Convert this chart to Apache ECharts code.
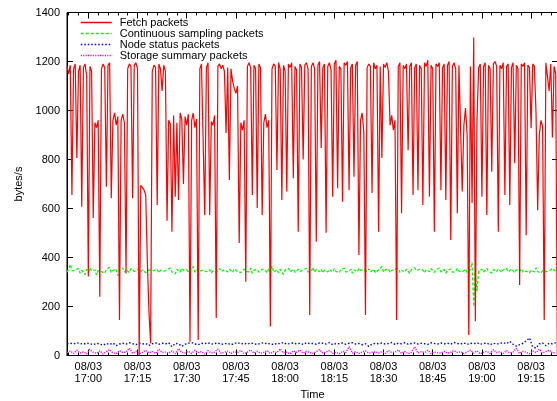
<!DOCTYPE html>
<html>
<head>
<meta charset="utf-8">
<script src="https://cdn.jsdelivr.net/npm/echarts@6/dist/echarts.min.js"></script>
<style>
  html, body { margin: 0; padding: 0; background: #fff; }
  #chart { width: 557px; height: 401px; }
</style>
</head>
<body>
<div id="chart"></div>
<script>
// Packet traffic per type, bytes/s, sampled over the afternoon of 08/03.
// Times are minutes after midnight.
const dayLabel = '08/03';
const startMinute = 1013.5;      // 16:53:30, first sample
const endMinute = 1163.2;        // right edge of the time window
const fastStep = 0.5;            // fetch + continuous sampling: one sample per 30 s
const slowStep = 1.0;            // node status + storage summary: one sample per minute

const tickTimes = ['17:00', '17:15', '17:30', '17:45', '18:00', '18:15', '18:30', '18:45', '19:00', '19:15'];
const yTicks = [0, 200, 400, 600, 800, 1000, 1200, 1400];

const seriesNames = ['Fetch packets', 'Continuous sampling packets', 'Node status packets', 'Storage summary packets'];

const fetchPackets = [
  1180,1150,1185,655,1170,1190,806,1160,1185,607,1175,1190,1140,322,1180,1160,561,950,930,960,
  240,1170,1190,1175,689,1185,1195,642,960,990,940,975,145,960,985,950,335,1170,1190,1180,
  642,1185,1195,1170,0,695,685,675,655,380,175,50,1160,1185,1175,614,1190,1170,1080,1185,
  1160,550,960,945,505,980,648,950,635,990,965,700,975,940,985,56,960,990,930,965,
  63,1170,1190,1185,573,1175,1195,573,955,940,980,153,1180,1190,1170,1185,1160,908,1175,716,
  1170,1120,1090,1070,1100,459,950,920,960,301,1180,1195,1175,655,1185,1170,602,1190,1175,573,
  950,985,930,960,118,1170,1190,1180,757,1195,1170,635,1185,1160,669,1190,1175,1195,724,1180,
  1165,505,1190,1175,800,1185,1195,1170,165,1180,1195,1170,464,1185,1200,847,1175,1190,501,1180,
  1195,1165,648,1190,1205,683,1180,1170,628,1195,1185,1200,675,1175,1190,730,1185,1200,410,960,
  990,910,165,1175,1190,1180,663,1195,1170,1185,505,1180,806,1190,1175,1195,1160,940,980,920,
  960,145,1180,1195,581,1185,1170,1190,838,1180,1195,655,1175,1190,675,1185,1170,614,1195,1180,
  1205,648,1185,1170,505,1190,1180,1195,675,1175,1190,635,1185,1200,471,1180,1195,1170,581,1185,
  1190,669,940,1010,900,84,1180,622,1298,140,960,1175,1190,648,1180,1195,573,1185,1170,750,
  1190,1200,1180,505,1185,1170,1195,655,1180,1190,614,1175,1195,785,1185,1170,288,1190,1180,1195,
  491,1185,1175,928,1190,1180,990,593,900,960,935,145,1195,1200,1080,1190,890,1180,1150,5
];

const samplingPackets = [
  340,352,372,345,338,350,343,355,336,348,346,330,352,341,358,344,337,350,328,347,
  355,342,349,336,352,345,360,338,347,341,353,326,349,344,357,340,351,346,339,355,
  348,343,335,352,346,341,350,344,338,347,342,349,355,346,340,351,337,348,353,344,
  339,350,346,357,341,348,333,352,345,340,356,347,342,351,338,349,344,362,340,347,
  353,344,338,349,356,342,347,351,336,345,352,340,348,355,343,337,350,346,341,352,
  345,339,354,347,342,350,338,346,353,344,349,341,357,336,348,343,351,340,346,352,
  344,349,337,355,342,366,340,347,351,338,352,345,331,349,343,356,341,348,353,339,
  347,352,343,338,350,345,356,341,348,344,360,339,351,346,342,353,337,349,345,341,
  352,347,340,355,343,349,338,351,346,357,341,348,344,353,336,350,345,342,356,347,
  339,351,346,343,354,341,348,352,337,345,350,344,363,340,349,346,353,338,347,342,
  351,344,356,339,348,345,341,353,347,335,350,343,358,346,340,352,344,349,337,351,
  346,342,355,348,339,350,344,357,341,347,352,336,349,345,353,340,348,343,356,344,
  350,341,347,353,338,346,352,380,200,340,262,345,345,352,340,348,356,343,349,337,
  351,345,342,354,347,339,350,344,356,341,348,353,345,338,350,346,343,355,340,348,
  344,352,337,349,346,341,358,343,350,336,347,353,342,349,345,339,356,348,343,351
];

const nodeStatusPackets = [
  48,50,47,52,49,46,51,48,44,50,47,42,49,45,51,40,47,50,46,52,48,44,50,47,49,41,48,51,46,50,
  47,52,36,49,48,37,46,50,53,47,44,50,48,52,46,49,51,45,48,50,44,49,53,47,50,46,51,48,45,50,
  52,47,49,44,50,48,53,46,49,51,47,50,45,52,48,49,46,51,50,47,53,44,49,48,51,46,50,52,47,49,
  44,48,37,46,50,48,51,47,49,53,45,50,48,52,46,49,51,47,50,48,45,52,49,47,51,48,50,46,53,49,
  47,51,45,50,48,52,46,49,51,44,50,47,49,53,48,58,46,38,44,50,60,72,35,30,48,51,40,50,48,52
];

const storageSummaryPackets = [
  12,18,8,22,10,15,7,26,13,9,19,6,16,24,10,8,20,12,14,30,9,17,7,13,21,10,16,8,25,12,
  14,9,19,7,28,13,10,17,8,22,12,16,6,20,10,14,26,9,13,18,8,16,12,21,7,14,23,10,17,9,
  13,20,8,16,12,27,10,14,7,19,13,22,9,17,12,8,16,24,10,14,20,9,13,7,17,12,36,10,16,8,
  14,19,9,13,15,10,16,8,20,12,14,23,9,17,7,13,35,10,16,12,21,8,14,11,10,17,9,13,20,12,
  16,8,14,22,10,19,7,13,17,9,24,12,16,8,20,10,14,29,9,17,13,7,19,12,26,10,16,22,9,14
];

function toMinutes(hhmm) {
  const [h, m] = hhmm.split(':').map(Number);
  return h * 60 + m;
}
function pad2(n) { return (n < 10 ? '0' : '') + n; }
function withTimes(values, step) {
  return values.map((v, i) => [startMinute + i * step, v]);
}

const majorTicks = tickTimes.map(toMinutes);
const minorTicks = [];
for (let t = Math.ceil(startMinute / 3) * 3; t <= endMinute; t += 3) {
  if (majorTicks.indexOf(t) < 0) minorTicks.push(t);
}

const FONT = 'Liberation Sans, Arial, sans-serif';
const frameColor = '#000';

function timeAxis(opts) {
  return Object.assign({
    type: 'value',
    min: startMinute,
    max: endMinute,
    splitLine: { show: false },
    axisLine: { show: false },
    axisLabel: { show: false },
    axisTick: { show: false }
  }, opts);
}

const chart = echarts.init(document.getElementById('chart'), null, { renderer: 'canvas' });

chart.setOption({
  animation: false,
  backgroundColor: '#fff',
  textStyle: { fontFamily: FONT },
  grid: {
    left: 67, right: -1, top: 12.5, bottom: 45.5,
    outerBoundsMode: 'none',
    show: true, borderColor: frameColor, borderWidth: 1
  },
  legend: {
    orient: 'vertical',
    left: 80, top: 17, padding: 0,
    itemWidth: 31, itemHeight: 11, itemGap: 0,
    itemStyle: { opacity: 0 },
    lineStyle: { width: 1.5 },
    textStyle: { fontFamily: FONT, fontSize: 11, color: '#000', lineHeight: 11, padding: [0, 0, 0, 3] },
    data: seriesNames
  },
  xAxis: [
    timeAxis({
      position: 'bottom',
      name: 'Time', nameLocation: 'middle', nameGap: 30,
      nameTextStyle: { fontFamily: FONT, fontSize: 11, color: '#000' },
      axisLine: { show: true, lineStyle: { color: frameColor, width: 1 } },
      axisTick: { show: true, inside: true, length: 6, customValues: majorTicks, lineStyle: { color: frameColor } },
      axisLabel: {
        show: true, margin: 5, customValues: majorTicks,
        fontFamily: FONT, fontSize: 11, color: '#000', lineHeight: 12,
        formatter: v => dayLabel + '\n' + pad2(Math.floor(v / 60)) + ':' + pad2(Math.round(v % 60))
      }
    }),
    timeAxis({
      position: 'bottom',
      axisTick: { show: true, inside: true, length: 3, customValues: minorTicks, lineStyle: { color: frameColor } }
    }),
    timeAxis({
      position: 'top',
      axisTick: { show: true, inside: true, length: 6, customValues: majorTicks, lineStyle: { color: frameColor } }
    }),
    timeAxis({
      position: 'top',
      axisTick: { show: true, inside: true, length: 3, customValues: minorTicks, lineStyle: { color: frameColor } }
    })
  ],
  yAxis: [
    {
      type: 'value', position: 'left',
      min: yTicks[0], max: yTicks[yTicks.length - 1], interval: 200,
      name: 'bytes/s', nameLocation: 'middle', nameGap: 42, nameRotate: 90,
      nameTextStyle: { fontFamily: FONT, fontSize: 11, color: '#000' },
      splitLine: { show: false },
      axisLine: { show: true, lineStyle: { color: frameColor, width: 1 } },
      axisTick: { show: true, inside: true, length: 6, lineStyle: { color: frameColor } },
      axisLabel: { margin: 7, fontFamily: FONT, fontSize: 11, color: '#000', formatter: v => String(v) }
    },
    {
      type: 'value', position: 'right',
      min: yTicks[0], max: yTicks[yTicks.length - 1], interval: 200,
      splitLine: { show: false },
      axisLine: { show: false },
      axisTick: { show: true, inside: true, length: 6, lineStyle: { color: frameColor } },
      axisLabel: { show: false }
    }
  ],
  series: [
    {
      name: seriesNames[0], type: 'line', xAxisIndex: 0, yAxisIndex: 0,
      symbol: 'none', color: '#ff0000', z: 4,
      lineStyle: { color: '#ff0000', width: 1.2 },
      data: withTimes(fetchPackets, fastStep)
    },
    {
      name: seriesNames[1], type: 'line', xAxisIndex: 0, yAxisIndex: 0,
      symbol: 'none', color: '#00ff00', z: 3,
      lineStyle: { color: '#00ff00', width: 1.3, type: [3, 2] },
      data: withTimes(samplingPackets, fastStep)
    },
    {
      name: seriesNames[2], type: 'line', xAxisIndex: 0, yAxisIndex: 0,
      symbol: 'none', color: '#0000ff', z: 3,
      lineStyle: { color: '#0000ff', width: 1.4, type: [1.5, 2] },
      data: withTimes(nodeStatusPackets, slowStep)
    },
    {
      name: seriesNames[3], type: 'line', xAxisIndex: 0, yAxisIndex: 0,
      symbol: 'none', color: '#ff00ff', z: 3,
      lineStyle: { color: '#ff00ff', width: 1.4, type: [1.2, 1.2] },
      data: withTimes(storageSummaryPackets, slowStep)
    }
  ]
});
</script>
</body>
</html>
